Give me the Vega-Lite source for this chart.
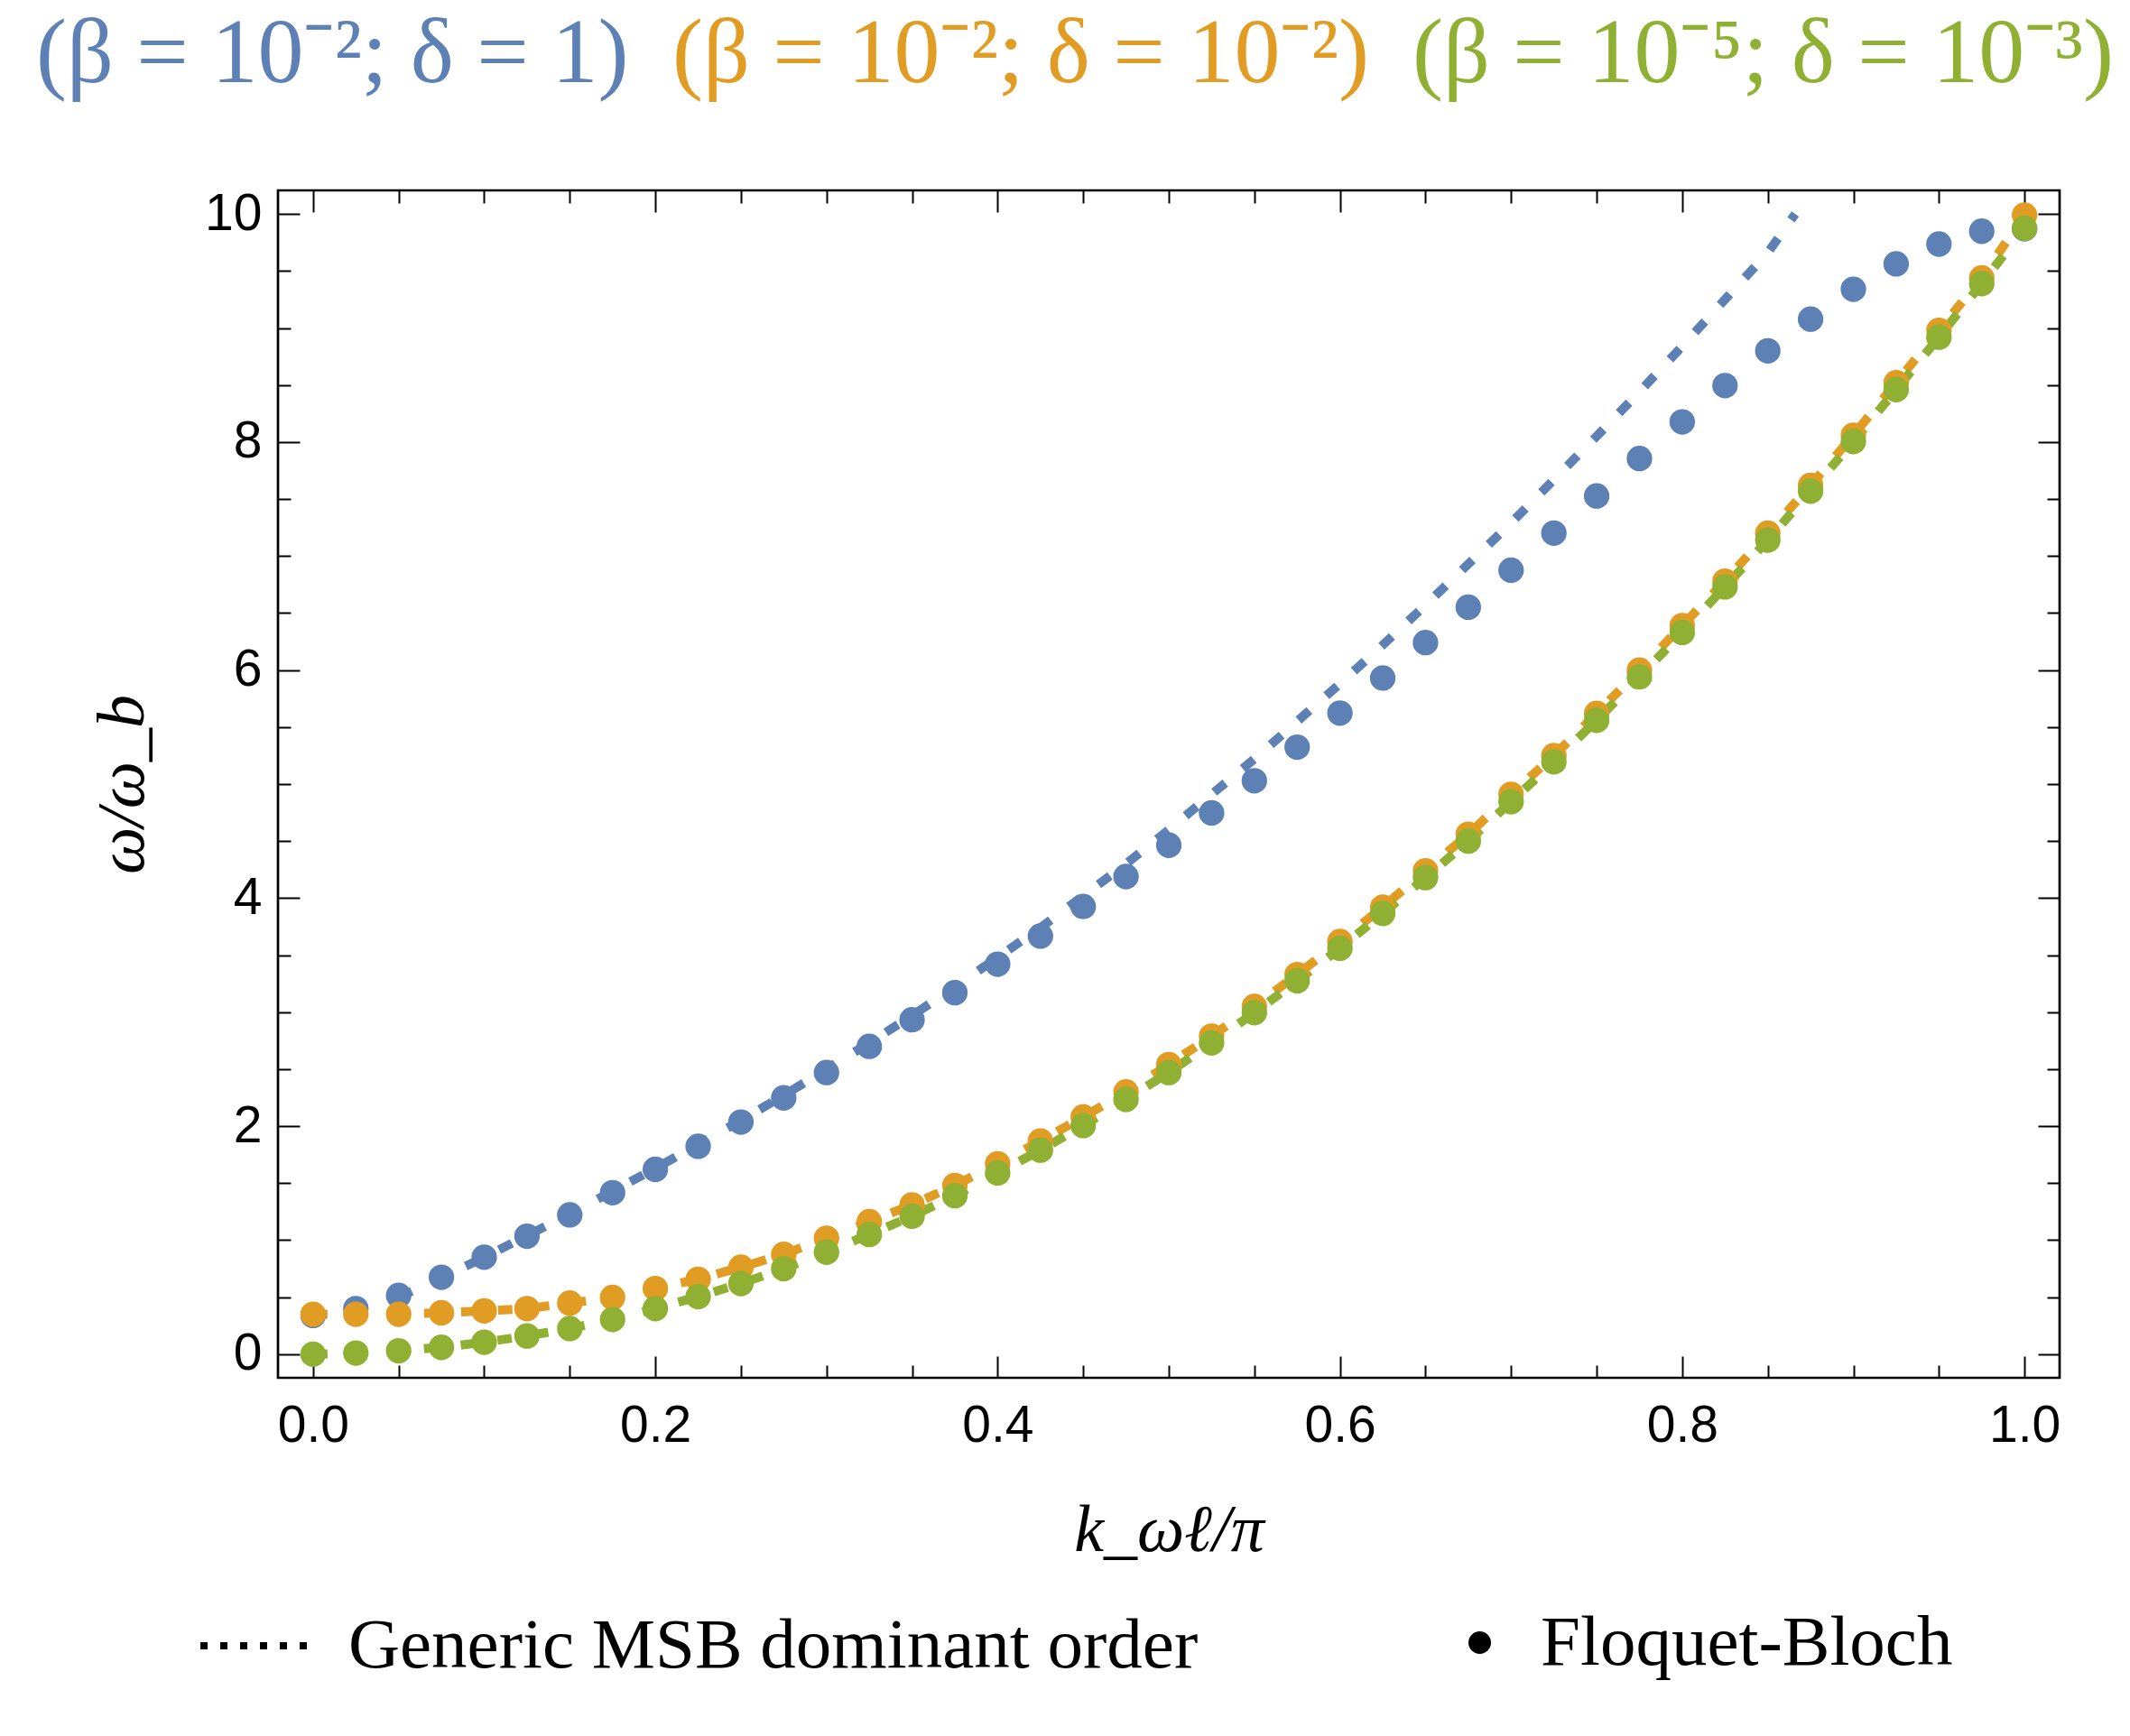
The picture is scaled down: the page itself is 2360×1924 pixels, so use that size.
{
  "$schema": "https://vega.github.io/schema/vega-lite/v6.json",
  "width": 1974,
  "height": 1316,
  "autosize": {"type": "none"},
  "padding": {"left": 308, "top": 211, "right": 78, "bottom": 397},
  "background": "white",
  "config": {
    "view": {"stroke": "black", "strokeWidth": 2.7},
    "axis": {"grid": false, "domain": false, "tickColor": "black", "tickWidth": 2, "labelColor": "black"}
  },
  "datasets": {
    "fb": [
      {"s": "(β = 10⁻²; δ = 1)", "m": "Floquet-Bloch", "k": 0, "w": 0.34},
      {"s": "(β = 10⁻²; δ = 1)", "m": "Floquet-Bloch", "k": 0.025, "w": 0.40},
      {"s": "(β = 10⁻²; δ = 1)", "m": "Floquet-Bloch", "k": 0.05, "w": 0.515},
      {"s": "(β = 10⁻²; δ = 1)", "m": "Floquet-Bloch", "k": 0.075, "w": 0.675},
      {"s": "(β = 10⁻²; δ = 1)", "m": "Floquet-Bloch", "k": 0.1, "w": 0.851},
      {"s": "(β = 10⁻²; δ = 1)", "m": "Floquet-Bloch", "k": 0.125, "w": 1.035},
      {"s": "(β = 10⁻²; δ = 1)", "m": "Floquet-Bloch", "k": 0.15, "w": 1.222},
      {"s": "(β = 10⁻²; δ = 1)", "m": "Floquet-Bloch", "k": 0.175, "w": 1.417},
      {"s": "(β = 10⁻²; δ = 1)", "m": "Floquet-Bloch", "k": 0.2, "w": 1.621},
      {"s": "(β = 10⁻²; δ = 1)", "m": "Floquet-Bloch", "k": 0.225, "w": 1.823},
      {"s": "(β = 10⁻²; δ = 1)", "m": "Floquet-Bloch", "k": 0.25, "w": 2.036},
      {"s": "(β = 10⁻²; δ = 1)", "m": "Floquet-Bloch", "k": 0.275, "w": 2.248},
      {"s": "(β = 10⁻²; δ = 1)", "m": "Floquet-Bloch", "k": 0.3, "w": 2.47},
      {"s": "(β = 10⁻²; δ = 1)", "m": "Floquet-Bloch", "k": 0.325, "w": 2.70},
      {"s": "(β = 10⁻²; δ = 1)", "m": "Floquet-Bloch", "k": 0.35, "w": 2.933},
      {"s": "(β = 10⁻²; δ = 1)", "m": "Floquet-Bloch", "k": 0.375, "w": 3.171},
      {"s": "(β = 10⁻²; δ = 1)", "m": "Floquet-Bloch", "k": 0.4, "w": 3.421},
      {"s": "(β = 10⁻²; δ = 1)", "m": "Floquet-Bloch", "k": 0.425, "w": 3.667},
      {"s": "(β = 10⁻²; δ = 1)", "m": "Floquet-Bloch", "k": 0.45, "w": 3.926},
      {"s": "(β = 10⁻²; δ = 1)", "m": "Floquet-Bloch", "k": 0.475, "w": 4.189},
      {"s": "(β = 10⁻²; δ = 1)", "m": "Floquet-Bloch", "k": 0.5, "w": 4.464},
      {"s": "(β = 10⁻²; δ = 1)", "m": "Floquet-Bloch", "k": 0.525, "w": 4.747},
      {"s": "(β = 10⁻²; δ = 1)", "m": "Floquet-Bloch", "k": 0.55, "w": 5.029},
      {"s": "(β = 10⁻²; δ = 1)", "m": "Floquet-Bloch", "k": 0.575, "w": 5.324},
      {"s": "(β = 10⁻²; δ = 1)", "m": "Floquet-Bloch", "k": 0.6, "w": 5.623},
      {"s": "(β = 10⁻²; δ = 1)", "m": "Floquet-Bloch", "k": 0.625, "w": 5.93},
      {"s": "(β = 10⁻²; δ = 1)", "m": "Floquet-Bloch", "k": 0.65, "w": 6.241},
      {"s": "(β = 10⁻²; δ = 1)", "m": "Floquet-Bloch", "k": 0.675, "w": 6.552},
      {"s": "(β = 10⁻²; δ = 1)", "m": "Floquet-Bloch", "k": 0.7, "w": 6.876},
      {"s": "(β = 10⁻²; δ = 1)", "m": "Floquet-Bloch", "k": 0.725, "w": 7.201},
      {"s": "(β = 10⁻²; δ = 1)", "m": "Floquet-Bloch", "k": 0.75, "w": 7.527},
      {"s": "(β = 10⁻²; δ = 1)", "m": "Floquet-Bloch", "k": 0.775, "w": 7.855},
      {"s": "(β = 10⁻²; δ = 1)", "m": "Floquet-Bloch", "k": 0.8, "w": 8.177},
      {"s": "(β = 10⁻²; δ = 1)", "m": "Floquet-Bloch", "k": 0.825, "w": 8.495},
      {"s": "(β = 10⁻²; δ = 1)", "m": "Floquet-Bloch", "k": 0.85, "w": 8.80},
      {"s": "(β = 10⁻²; δ = 1)", "m": "Floquet-Bloch", "k": 0.875, "w": 9.078},
      {"s": "(β = 10⁻²; δ = 1)", "m": "Floquet-Bloch", "k": 0.9, "w": 9.34},
      {"s": "(β = 10⁻²; δ = 1)", "m": "Floquet-Bloch", "k": 0.925, "w": 9.563},
      {"s": "(β = 10⁻²; δ = 1)", "m": "Floquet-Bloch", "k": 0.95, "w": 9.736},
      {"s": "(β = 10⁻²; δ = 1)", "m": "Floquet-Bloch", "k": 0.975, "w": 9.849},
      {"s": "(β = 10⁻²; δ = 1)", "m": "Floquet-Bloch", "k": 1.0, "w": 9.87},
      {"s": "(β = 10⁻²; δ = 10⁻²)", "m": "Floquet-Bloch", "k": 0, "w": 0.35},
      {"s": "(β = 10⁻²; δ = 10⁻²)", "m": "Floquet-Bloch", "k": 0.025, "w": 0.35},
      {"s": "(β = 10⁻²; δ = 10⁻²)", "m": "Floquet-Bloch", "k": 0.05, "w": 0.35},
      {"s": "(β = 10⁻²; δ = 10⁻²)", "m": "Floquet-Bloch", "k": 0.075, "w": 0.363},
      {"s": "(β = 10⁻²; δ = 10⁻²)", "m": "Floquet-Bloch", "k": 0.1, "w": 0.38},
      {"s": "(β = 10⁻²; δ = 10⁻²)", "m": "Floquet-Bloch", "k": 0.125, "w": 0.40},
      {"s": "(β = 10⁻²; δ = 10⁻²)", "m": "Floquet-Bloch", "k": 0.15, "w": 0.448},
      {"s": "(β = 10⁻²; δ = 10⁻²)", "m": "Floquet-Bloch", "k": 0.175, "w": 0.498},
      {"s": "(β = 10⁻²; δ = 10⁻²)", "m": "Floquet-Bloch", "k": 0.2, "w": 0.576},
      {"s": "(β = 10⁻²; δ = 10⁻²)", "m": "Floquet-Bloch", "k": 0.225, "w": 0.657},
      {"s": "(β = 10⁻²; δ = 10⁻²)", "m": "Floquet-Bloch", "k": 0.25, "w": 0.763},
      {"s": "(β = 10⁻²; δ = 10⁻²)", "m": "Floquet-Bloch", "k": 0.275, "w": 0.876},
      {"s": "(β = 10⁻²; δ = 10⁻²)", "m": "Floquet-Bloch", "k": 0.3, "w": 1.017},
      {"s": "(β = 10⁻²; δ = 10⁻²)", "m": "Floquet-Bloch", "k": 0.325, "w": 1.162},
      {"s": "(β = 10⁻²; δ = 10⁻²)", "m": "Floquet-Bloch", "k": 0.35, "w": 1.31},
      {"s": "(β = 10⁻²; δ = 10⁻²)", "m": "Floquet-Bloch", "k": 0.375, "w": 1.48},
      {"s": "(β = 10⁻²; δ = 10⁻²)", "m": "Floquet-Bloch", "k": 0.4, "w": 1.67},
      {"s": "(β = 10⁻²; δ = 10⁻²)", "m": "Floquet-Bloch", "k": 0.425, "w": 1.87},
      {"s": "(β = 10⁻²; δ = 10⁻²)", "m": "Floquet-Bloch", "k": 0.45, "w": 2.08},
      {"s": "(β = 10⁻²; δ = 10⁻²)", "m": "Floquet-Bloch", "k": 0.475, "w": 2.30},
      {"s": "(β = 10⁻²; δ = 10⁻²)", "m": "Floquet-Bloch", "k": 0.5, "w": 2.54},
      {"s": "(β = 10⁻²; δ = 10⁻²)", "m": "Floquet-Bloch", "k": 0.525, "w": 2.79},
      {"s": "(β = 10⁻²; δ = 10⁻²)", "m": "Floquet-Bloch", "k": 0.55, "w": 3.05},
      {"s": "(β = 10⁻²; δ = 10⁻²)", "m": "Floquet-Bloch", "k": 0.575, "w": 3.33},
      {"s": "(β = 10⁻²; δ = 10⁻²)", "m": "Floquet-Bloch", "k": 0.6, "w": 3.62},
      {"s": "(β = 10⁻²; δ = 10⁻²)", "m": "Floquet-Bloch", "k": 0.625, "w": 3.92},
      {"s": "(β = 10⁻²; δ = 10⁻²)", "m": "Floquet-Bloch", "k": 0.65, "w": 4.24},
      {"s": "(β = 10⁻²; δ = 10⁻²)", "m": "Floquet-Bloch", "k": 0.675, "w": 4.56},
      {"s": "(β = 10⁻²; δ = 10⁻²)", "m": "Floquet-Bloch", "k": 0.7, "w": 4.91},
      {"s": "(β = 10⁻²; δ = 10⁻²)", "m": "Floquet-Bloch", "k": 0.725, "w": 5.25},
      {"s": "(β = 10⁻²; δ = 10⁻²)", "m": "Floquet-Bloch", "k": 0.75, "w": 5.62},
      {"s": "(β = 10⁻²; δ = 10⁻²)", "m": "Floquet-Bloch", "k": 0.775, "w": 6.0},
      {"s": "(β = 10⁻²; δ = 10⁻²)", "m": "Floquet-Bloch", "k": 0.8, "w": 6.39},
      {"s": "(β = 10⁻²; δ = 10⁻²)", "m": "Floquet-Bloch", "k": 0.825, "w": 6.78},
      {"s": "(β = 10⁻²; δ = 10⁻²)", "m": "Floquet-Bloch", "k": 0.85, "w": 7.2},
      {"s": "(β = 10⁻²; δ = 10⁻²)", "m": "Floquet-Bloch", "k": 0.875, "w": 7.62},
      {"s": "(β = 10⁻²; δ = 10⁻²)", "m": "Floquet-Bloch", "k": 0.9, "w": 8.06},
      {"s": "(β = 10⁻²; δ = 10⁻²)", "m": "Floquet-Bloch", "k": 0.925, "w": 8.52},
      {"s": "(β = 10⁻²; δ = 10⁻²)", "m": "Floquet-Bloch", "k": 0.95, "w": 8.98},
      {"s": "(β = 10⁻²; δ = 10⁻²)", "m": "Floquet-Bloch", "k": 0.975, "w": 9.44},
      {"s": "(β = 10⁻²; δ = 10⁻²)", "m": "Floquet-Bloch", "k": 1.0, "w": 9.99},
      {"s": "(β = 10⁻⁵; δ = 10⁻³)", "m": "Floquet-Bloch", "k": 0, "w": 0.0},
      {"s": "(β = 10⁻⁵; δ = 10⁻³)", "m": "Floquet-Bloch", "k": 0.025, "w": 0.01},
      {"s": "(β = 10⁻⁵; δ = 10⁻³)", "m": "Floquet-Bloch", "k": 0.05, "w": 0.03},
      {"s": "(β = 10⁻⁵; δ = 10⁻³)", "m": "Floquet-Bloch", "k": 0.075, "w": 0.06},
      {"s": "(β = 10⁻⁵; δ = 10⁻³)", "m": "Floquet-Bloch", "k": 0.1, "w": 0.105},
      {"s": "(β = 10⁻⁵; δ = 10⁻³)", "m": "Floquet-Bloch", "k": 0.125, "w": 0.16},
      {"s": "(β = 10⁻⁵; δ = 10⁻³)", "m": "Floquet-Bloch", "k": 0.15, "w": 0.225},
      {"s": "(β = 10⁻⁵; δ = 10⁻³)", "m": "Floquet-Bloch", "k": 0.175, "w": 0.305},
      {"s": "(β = 10⁻⁵; δ = 10⁻³)", "m": "Floquet-Bloch", "k": 0.2, "w": 0.40},
      {"s": "(β = 10⁻⁵; δ = 10⁻³)", "m": "Floquet-Bloch", "k": 0.225, "w": 0.505},
      {"s": "(β = 10⁻⁵; δ = 10⁻³)", "m": "Floquet-Bloch", "k": 0.25, "w": 0.62},
      {"s": "(β = 10⁻⁵; δ = 10⁻³)", "m": "Floquet-Bloch", "k": 0.275, "w": 0.75},
      {"s": "(β = 10⁻⁵; δ = 10⁻³)", "m": "Floquet-Bloch", "k": 0.3, "w": 0.895},
      {"s": "(β = 10⁻⁵; δ = 10⁻³)", "m": "Floquet-Bloch", "k": 0.325, "w": 1.05},
      {"s": "(β = 10⁻⁵; δ = 10⁻³)", "m": "Floquet-Bloch", "k": 0.35, "w": 1.21},
      {"s": "(β = 10⁻⁵; δ = 10⁻³)", "m": "Floquet-Bloch", "k": 0.375, "w": 1.39},
      {"s": "(β = 10⁻⁵; δ = 10⁻³)", "m": "Floquet-Bloch", "k": 0.4, "w": 1.59},
      {"s": "(β = 10⁻⁵; δ = 10⁻³)", "m": "Floquet-Bloch", "k": 0.425, "w": 1.79},
      {"s": "(β = 10⁻⁵; δ = 10⁻³)", "m": "Floquet-Bloch", "k": 0.45, "w": 2.005},
      {"s": "(β = 10⁻⁵; δ = 10⁻³)", "m": "Floquet-Bloch", "k": 0.475, "w": 2.235},
      {"s": "(β = 10⁻⁵; δ = 10⁻³)", "m": "Floquet-Bloch", "k": 0.5, "w": 2.47},
      {"s": "(β = 10⁻⁵; δ = 10⁻³)", "m": "Floquet-Bloch", "k": 0.525, "w": 2.73},
      {"s": "(β = 10⁻⁵; δ = 10⁻³)", "m": "Floquet-Bloch", "k": 0.55, "w": 2.995},
      {"s": "(β = 10⁻⁵; δ = 10⁻³)", "m": "Floquet-Bloch", "k": 0.575, "w": 3.275},
      {"s": "(β = 10⁻⁵; δ = 10⁻³)", "m": "Floquet-Bloch", "k": 0.6, "w": 3.56},
      {"s": "(β = 10⁻⁵; δ = 10⁻³)", "m": "Floquet-Bloch", "k": 0.625, "w": 3.865},
      {"s": "(β = 10⁻⁵; δ = 10⁻³)", "m": "Floquet-Bloch", "k": 0.65, "w": 4.18},
      {"s": "(β = 10⁻⁵; δ = 10⁻³)", "m": "Floquet-Bloch", "k": 0.675, "w": 4.5},
      {"s": "(β = 10⁻⁵; δ = 10⁻³)", "m": "Floquet-Bloch", "k": 0.7, "w": 4.845},
      {"s": "(β = 10⁻⁵; δ = 10⁻³)", "m": "Floquet-Bloch", "k": 0.725, "w": 5.195},
      {"s": "(β = 10⁻⁵; δ = 10⁻³)", "m": "Floquet-Bloch", "k": 0.75, "w": 5.56},
      {"s": "(β = 10⁻⁵; δ = 10⁻³)", "m": "Floquet-Bloch", "k": 0.775, "w": 5.94},
      {"s": "(β = 10⁻⁵; δ = 10⁻³)", "m": "Floquet-Bloch", "k": 0.8, "w": 6.33},
      {"s": "(β = 10⁻⁵; δ = 10⁻³)", "m": "Floquet-Bloch", "k": 0.825, "w": 6.73},
      {"s": "(β = 10⁻⁵; δ = 10⁻³)", "m": "Floquet-Bloch", "k": 0.85, "w": 7.14},
      {"s": "(β = 10⁻⁵; δ = 10⁻³)", "m": "Floquet-Bloch", "k": 0.875, "w": 7.57},
      {"s": "(β = 10⁻⁵; δ = 10⁻³)", "m": "Floquet-Bloch", "k": 0.9, "w": 8.005},
      {"s": "(β = 10⁻⁵; δ = 10⁻³)", "m": "Floquet-Bloch", "k": 0.925, "w": 8.46},
      {"s": "(β = 10⁻⁵; δ = 10⁻³)", "m": "Floquet-Bloch", "k": 0.95, "w": 8.92},
      {"s": "(β = 10⁻⁵; δ = 10⁻³)", "m": "Floquet-Bloch", "k": 0.975, "w": 9.39},
      {"s": "(β = 10⁻⁵; δ = 10⁻³)", "m": "Floquet-Bloch", "k": 1.0, "w": 9.875}
    ],
    "msb": [
      {"s": "(β = 10⁻²; δ = 1)", "k": 0.05, "w": 0.50},
      {"s": "(β = 10⁻²; δ = 1)", "k": 0.075, "w": 0.67},
      {"s": "(β = 10⁻²; δ = 1)", "k": 0.1, "w": 0.85},
      {"s": "(β = 10⁻²; δ = 1)", "k": 0.125, "w": 1.04},
      {"s": "(β = 10⁻²; δ = 1)", "k": 0.15, "w": 1.23},
      {"s": "(β = 10⁻²; δ = 1)", "k": 0.175, "w": 1.43},
      {"s": "(β = 10⁻²; δ = 1)", "k": 0.2, "w": 1.63},
      {"s": "(β = 10⁻²; δ = 1)", "k": 0.225, "w": 1.84},
      {"s": "(β = 10⁻²; δ = 1)", "k": 0.25, "w": 2.05},
      {"s": "(β = 10⁻²; δ = 1)", "k": 0.275, "w": 2.27},
      {"s": "(β = 10⁻²; δ = 1)", "k": 0.3, "w": 2.50},
      {"s": "(β = 10⁻²; δ = 1)", "k": 0.325, "w": 2.73},
      {"s": "(β = 10⁻²; δ = 1)", "k": 0.35, "w": 2.97},
      {"s": "(β = 10⁻²; δ = 1)", "k": 0.375, "w": 3.22},
      {"s": "(β = 10⁻²; δ = 1)", "k": 0.4, "w": 3.48},
      {"s": "(β = 10⁻²; δ = 1)", "k": 0.425, "w": 3.74},
      {"s": "(β = 10⁻²; δ = 1)", "k": 0.45, "w": 4.02},
      {"s": "(β = 10⁻²; δ = 1)", "k": 0.475, "w": 4.30},
      {"s": "(β = 10⁻²; δ = 1)", "k": 0.5, "w": 4.60},
      {"s": "(β = 10⁻²; δ = 1)", "k": 0.525, "w": 4.91},
      {"s": "(β = 10⁻²; δ = 1)", "k": 0.55, "w": 5.22},
      {"s": "(β = 10⁻²; δ = 1)", "k": 0.575, "w": 5.55},
      {"s": "(β = 10⁻²; δ = 1)", "k": 0.6, "w": 5.88},
      {"s": "(β = 10⁻²; δ = 1)", "k": 0.625, "w": 6.22},
      {"s": "(β = 10⁻²; δ = 1)", "k": 0.65, "w": 6.57},
      {"s": "(β = 10⁻²; δ = 1)", "k": 0.675, "w": 6.93},
      {"s": "(β = 10⁻²; δ = 1)", "k": 0.7, "w": 7.29},
      {"s": "(β = 10⁻²; δ = 1)", "k": 0.725, "w": 7.67},
      {"s": "(β = 10⁻²; δ = 1)", "k": 0.75, "w": 8.05},
      {"s": "(β = 10⁻²; δ = 1)", "k": 0.775, "w": 8.44},
      {"s": "(β = 10⁻²; δ = 1)", "k": 0.8, "w": 8.84},
      {"s": "(β = 10⁻²; δ = 1)", "k": 0.825, "w": 9.25},
      {"s": "(β = 10⁻²; δ = 1)", "k": 0.85, "w": 9.66},
      {"s": "(β = 10⁻²; δ = 1)", "k": 0.866, "w": 10.0},
      {"s": "(β = 10⁻²; δ = 10⁻²)", "k": 0, "w": 0.35},
      {"s": "(β = 10⁻²; δ = 10⁻²)", "k": 0.025, "w": 0.35},
      {"s": "(β = 10⁻²; δ = 10⁻²)", "k": 0.05, "w": 0.355},
      {"s": "(β = 10⁻²; δ = 10⁻²)", "k": 0.075, "w": 0.363},
      {"s": "(β = 10⁻²; δ = 10⁻²)", "k": 0.1, "w": 0.38},
      {"s": "(β = 10⁻²; δ = 10⁻²)", "k": 0.125, "w": 0.40},
      {"s": "(β = 10⁻²; δ = 10⁻²)", "k": 0.15, "w": 0.448},
      {"s": "(β = 10⁻²; δ = 10⁻²)", "k": 0.175, "w": 0.498},
      {"s": "(β = 10⁻²; δ = 10⁻²)", "k": 0.2, "w": 0.576},
      {"s": "(β = 10⁻²; δ = 10⁻²)", "k": 0.225, "w": 0.657},
      {"s": "(β = 10⁻²; δ = 10⁻²)", "k": 0.25, "w": 0.763},
      {"s": "(β = 10⁻²; δ = 10⁻²)", "k": 0.275, "w": 0.876},
      {"s": "(β = 10⁻²; δ = 10⁻²)", "k": 0.3, "w": 1.017},
      {"s": "(β = 10⁻²; δ = 10⁻²)", "k": 0.325, "w": 1.162},
      {"s": "(β = 10⁻²; δ = 10⁻²)", "k": 0.35, "w": 1.31},
      {"s": "(β = 10⁻²; δ = 10⁻²)", "k": 0.375, "w": 1.48},
      {"s": "(β = 10⁻²; δ = 10⁻²)", "k": 0.4, "w": 1.67},
      {"s": "(β = 10⁻²; δ = 10⁻²)", "k": 0.425, "w": 1.87},
      {"s": "(β = 10⁻²; δ = 10⁻²)", "k": 0.45, "w": 2.08},
      {"s": "(β = 10⁻²; δ = 10⁻²)", "k": 0.475, "w": 2.30},
      {"s": "(β = 10⁻²; δ = 10⁻²)", "k": 0.5, "w": 2.54},
      {"s": "(β = 10⁻²; δ = 10⁻²)", "k": 0.525, "w": 2.79},
      {"s": "(β = 10⁻²; δ = 10⁻²)", "k": 0.55, "w": 3.05},
      {"s": "(β = 10⁻²; δ = 10⁻²)", "k": 0.575, "w": 3.33},
      {"s": "(β = 10⁻²; δ = 10⁻²)", "k": 0.6, "w": 3.62},
      {"s": "(β = 10⁻²; δ = 10⁻²)", "k": 0.625, "w": 3.92},
      {"s": "(β = 10⁻²; δ = 10⁻²)", "k": 0.65, "w": 4.24},
      {"s": "(β = 10⁻²; δ = 10⁻²)", "k": 0.675, "w": 4.56},
      {"s": "(β = 10⁻²; δ = 10⁻²)", "k": 0.7, "w": 4.91},
      {"s": "(β = 10⁻²; δ = 10⁻²)", "k": 0.725, "w": 5.25},
      {"s": "(β = 10⁻²; δ = 10⁻²)", "k": 0.75, "w": 5.62},
      {"s": "(β = 10⁻²; δ = 10⁻²)", "k": 0.775, "w": 6.0},
      {"s": "(β = 10⁻²; δ = 10⁻²)", "k": 0.8, "w": 6.39},
      {"s": "(β = 10⁻²; δ = 10⁻²)", "k": 0.825, "w": 6.78},
      {"s": "(β = 10⁻²; δ = 10⁻²)", "k": 0.85, "w": 7.2},
      {"s": "(β = 10⁻²; δ = 10⁻²)", "k": 0.875, "w": 7.62},
      {"s": "(β = 10⁻²; δ = 10⁻²)", "k": 0.9, "w": 8.06},
      {"s": "(β = 10⁻²; δ = 10⁻²)", "k": 0.925, "w": 8.52},
      {"s": "(β = 10⁻²; δ = 10⁻²)", "k": 0.95, "w": 8.98},
      {"s": "(β = 10⁻²; δ = 10⁻²)", "k": 0.975, "w": 9.44},
      {"s": "(β = 10⁻²; δ = 10⁻²)", "k": 1.0, "w": 9.99},
      {"s": "(β = 10⁻⁵; δ = 10⁻³)", "k": 0, "w": 0.0},
      {"s": "(β = 10⁻⁵; δ = 10⁻³)", "k": 0.025, "w": 0.01},
      {"s": "(β = 10⁻⁵; δ = 10⁻³)", "k": 0.05, "w": 0.03},
      {"s": "(β = 10⁻⁵; δ = 10⁻³)", "k": 0.075, "w": 0.06},
      {"s": "(β = 10⁻⁵; δ = 10⁻³)", "k": 0.1, "w": 0.105},
      {"s": "(β = 10⁻⁵; δ = 10⁻³)", "k": 0.125, "w": 0.16},
      {"s": "(β = 10⁻⁵; δ = 10⁻³)", "k": 0.15, "w": 0.225},
      {"s": "(β = 10⁻⁵; δ = 10⁻³)", "k": 0.175, "w": 0.305},
      {"s": "(β = 10⁻⁵; δ = 10⁻³)", "k": 0.2, "w": 0.40},
      {"s": "(β = 10⁻⁵; δ = 10⁻³)", "k": 0.225, "w": 0.505},
      {"s": "(β = 10⁻⁵; δ = 10⁻³)", "k": 0.25, "w": 0.62},
      {"s": "(β = 10⁻⁵; δ = 10⁻³)", "k": 0.275, "w": 0.75},
      {"s": "(β = 10⁻⁵; δ = 10⁻³)", "k": 0.3, "w": 0.895},
      {"s": "(β = 10⁻⁵; δ = 10⁻³)", "k": 0.325, "w": 1.05},
      {"s": "(β = 10⁻⁵; δ = 10⁻³)", "k": 0.35, "w": 1.21},
      {"s": "(β = 10⁻⁵; δ = 10⁻³)", "k": 0.375, "w": 1.39},
      {"s": "(β = 10⁻⁵; δ = 10⁻³)", "k": 0.4, "w": 1.59},
      {"s": "(β = 10⁻⁵; δ = 10⁻³)", "k": 0.425, "w": 1.79},
      {"s": "(β = 10⁻⁵; δ = 10⁻³)", "k": 0.45, "w": 2.005},
      {"s": "(β = 10⁻⁵; δ = 10⁻³)", "k": 0.475, "w": 2.235},
      {"s": "(β = 10⁻⁵; δ = 10⁻³)", "k": 0.5, "w": 2.47},
      {"s": "(β = 10⁻⁵; δ = 10⁻³)", "k": 0.525, "w": 2.73},
      {"s": "(β = 10⁻⁵; δ = 10⁻³)", "k": 0.55, "w": 2.995},
      {"s": "(β = 10⁻⁵; δ = 10⁻³)", "k": 0.575, "w": 3.275},
      {"s": "(β = 10⁻⁵; δ = 10⁻³)", "k": 0.6, "w": 3.56},
      {"s": "(β = 10⁻⁵; δ = 10⁻³)", "k": 0.625, "w": 3.865},
      {"s": "(β = 10⁻⁵; δ = 10⁻³)", "k": 0.65, "w": 4.18},
      {"s": "(β = 10⁻⁵; δ = 10⁻³)", "k": 0.675, "w": 4.5},
      {"s": "(β = 10⁻⁵; δ = 10⁻³)", "k": 0.7, "w": 4.845},
      {"s": "(β = 10⁻⁵; δ = 10⁻³)", "k": 0.725, "w": 5.195},
      {"s": "(β = 10⁻⁵; δ = 10⁻³)", "k": 0.75, "w": 5.56},
      {"s": "(β = 10⁻⁵; δ = 10⁻³)", "k": 0.775, "w": 5.94},
      {"s": "(β = 10⁻⁵; δ = 10⁻³)", "k": 0.8, "w": 6.33},
      {"s": "(β = 10⁻⁵; δ = 10⁻³)", "k": 0.825, "w": 6.73},
      {"s": "(β = 10⁻⁵; δ = 10⁻³)", "k": 0.85, "w": 7.14},
      {"s": "(β = 10⁻⁵; δ = 10⁻³)", "k": 0.875, "w": 7.57},
      {"s": "(β = 10⁻⁵; δ = 10⁻³)", "k": 0.9, "w": 8.005},
      {"s": "(β = 10⁻⁵; δ = 10⁻³)", "k": 0.925, "w": 8.46},
      {"s": "(β = 10⁻⁵; δ = 10⁻³)", "k": 0.95, "w": 8.92},
      {"s": "(β = 10⁻⁵; δ = 10⁻³)", "k": 0.975, "w": 9.39},
      {"s": "(β = 10⁻⁵; δ = 10⁻³)", "k": 1.0, "w": 9.875}
    ]
  },
  "resolve": {"axis": {"x": "independent", "y": "independent"}},
  "layer": [
    {
      "data": {"name": "msb"},
      "mark": {"type": "line", "strokeWidth": 10, "strokeCap": "butt", "strokeDash": [16, 25], "clip": true},
      "encoding": {
        "x": {
          "field": "k", "type": "quantitative",
          "scale": {"domain": [-0.0205, 1.0205], "nice": false, "zero": false},
          "axis": {
            "orient": "bottom", "values": [0, 0.2, 0.4, 0.6, 0.8, 1], "format": ".1f",
            "ticks": false, "labelPadding": 25, "labelFont": "Liberation Sans", "labelFontSize": 57,
            "labelColor": "black", "labelFlush": false, "labelOverlap": false,
            "title": "k_ωℓ/π", "titleFont": "Liberation Serif", "titleFontSize": 74,
            "titleFontStyle": "italic", "titleFontWeight": "normal", "titleColor": "black",
            "titleBaseline": "alphabetic", "titleX": 987, "titleY": 191
          }
        },
        "y": {
          "field": "w", "type": "quantitative",
          "scale": {"domain": [-0.207, 10.207], "nice": false, "zero": false},
          "axis": {
            "orient": "left", "values": [0, 2, 4, 6, 8, 10],
            "ticks": false, "labelPadding": 18, "labelFont": "Liberation Sans", "labelFontSize": 57,
            "labelColor": "black", "labelFlush": false, "labelOverlap": false,
            "title": "ω/ω_b", "titleFont": "Liberation Serif", "titleFontSize": 74,
            "titleFontStyle": "italic", "titleFontWeight": "normal", "titleColor": "black",
            "titleAngle": 270, "titleBaseline": "middle", "titleAlign": "center",
            "titleX": -172, "titleY": 658
          }
        },
        "color": {
          "field": "s", "type": "nominal",
          "scale": {
            "domain": ["(β = 10⁻²; δ = 1)", "(β = 10⁻²; δ = 10⁻²)", "(β = 10⁻⁵; δ = 10⁻³)"],
            "range": ["#5E81B5", "#E19C24", "#8FB032"]
          },
          "legend": {
            "orient": "none", "legendX": -268, "legendY": -202, "direction": "horizontal",
            "columns": 3, "columnPadding": 48, "title": null, "padding": 0,
            "symbolSize": 0, "symbolOpacity": 0, "symbolStrokeWidth": 0, "labelOffset": -102,
            "labelFont": "Liberation Serif", "labelFontSize": 102, "labelLimit": 2000,
            "encode": {
              "symbols": {"update": {"size": {"value": 0}, "opacity": {"value": 0}, "strokeWidth": {"value": 0}}},
              "labels": {"update": {"fill": {"scale": "color", "field": "value"}}}
            }
          }
        }
      }
    },
    {
      "data": {"name": "fb"},
      "mark": {"type": "point", "filled": true, "size": 800, "opacity": 1, "strokeWidth": 0, "clip": true},
      "encoding": {
        "x": {"field": "k", "type": "quantitative",
          "axis": {"orient": "bottom", "values": [0, 0.2, 0.4, 0.6, 0.8, 1], "labels": false, "tickSize": -24, "title": null}},
        "y": {"field": "w", "type": "quantitative",
          "axis": {"orient": "left", "values": [0, 2, 4, 6, 8, 10], "labels": false, "tickSize": -24, "title": null}},
        "color": {"field": "s", "type": "nominal"},
        "shape": {
          "field": "m", "type": "nominal",
          "scale": {"domain": ["Floquet-Bloch"], "range": ["circle"]},
          "legend": {
            "orient": "none", "legendX": 1292, "legendY": 1570, "title": null, "padding": 0,
            "symbolSize": 625, "symbolFillColor": "black", "symbolStrokeWidth": 0, "labelOffset": 28,
            "labelFont": "Liberation Serif", "labelFontSize": 79, "labelColor": "black", "labelLimit": 2000,
            "encode": {"symbols": {"update": {"fill": {"value": "black"}, "opacity": {"value": 1}, "strokeWidth": {"value": 0}}}}
          }
        }
      }
    },
    {
      "data": {"values": []},
      "mark": {"type": "line", "color": "black", "strokeWidth": 8, "strokeCap": "butt"},
      "encoding": {
        "x": {"field": "k", "type": "quantitative", "axis": null},
        "y": {"field": "w", "type": "quantitative", "axis": null},
        "strokeDash": {
          "field": "m", "type": "nominal",
          "scale": {"domain": ["Generic MSB dominant order"], "range": [[8, 14]]},
          "legend": {
            "orient": "none", "legendX": -90, "legendY": 1550, "title": null, "padding": 0,
            "symbolType": "stroke", "symbolSize": 13924, "symbolStrokeWidth": 8,
            "symbolStrokeColor": "black", "labelOffset": 42,
            "labelFont": "Liberation Serif", "labelFontSize": 79, "labelColor": "black", "labelLimit": 2000,
            "encode": {"symbols": {"update": {"stroke": {"value": "black"}, "strokeWidth": {"value": 8}, "opacity": {"value": 1}}}}
          }
        }
      }
    },
    {
      "data": {"values": []},
      "mark": "point",
      "encoding": {
        "x": {"field": "k", "type": "quantitative",
          "axis": {"orient": "bottom", "values": [0.05, 0.1, 0.15, 0.25, 0.3, 0.35, 0.45, 0.5, 0.55, 0.65, 0.7, 0.75, 0.85, 0.9, 0.95], "labels": false, "tickSize": -14, "title": null}},
        "y": {"field": "w", "type": "quantitative",
          "axis": {"orient": "left", "values": [0.5, 1, 1.5, 2.5, 3, 3.5, 4.5, 5, 5.5, 6.5, 7, 7.5, 8.5, 9, 9.5], "labels": false, "tickSize": -14, "title": null}}
      }
    },
    {
      "data": {"values": []},
      "mark": "point",
      "encoding": {
        "x": {"field": "k", "type": "quantitative",
          "axis": {"orient": "top", "values": [0, 0.2, 0.4, 0.6, 0.8, 1], "labels": false, "tickSize": -24, "title": null}},
        "y": {"field": "w", "type": "quantitative",
          "axis": {"orient": "right", "values": [0, 2, 4, 6, 8, 10], "labels": false, "tickSize": -24, "title": null}}
      }
    },
    {
      "data": {"values": []},
      "mark": "point",
      "encoding": {
        "x": {"field": "k", "type": "quantitative",
          "axis": {"orient": "top", "values": [0.05, 0.1, 0.15, 0.25, 0.3, 0.35, 0.45, 0.5, 0.55, 0.65, 0.7, 0.75, 0.85, 0.9, 0.95], "labels": false, "tickSize": -14, "title": null}},
        "y": {"field": "w", "type": "quantitative",
          "axis": {"orient": "right", "values": [0.5, 1, 1.5, 2.5, 3, 3.5, 4.5, 5, 5.5, 6.5, 7, 7.5, 8.5, 9, 9.5], "labels": false, "tickSize": -14, "title": null}}
      }
    }
  ]
}
